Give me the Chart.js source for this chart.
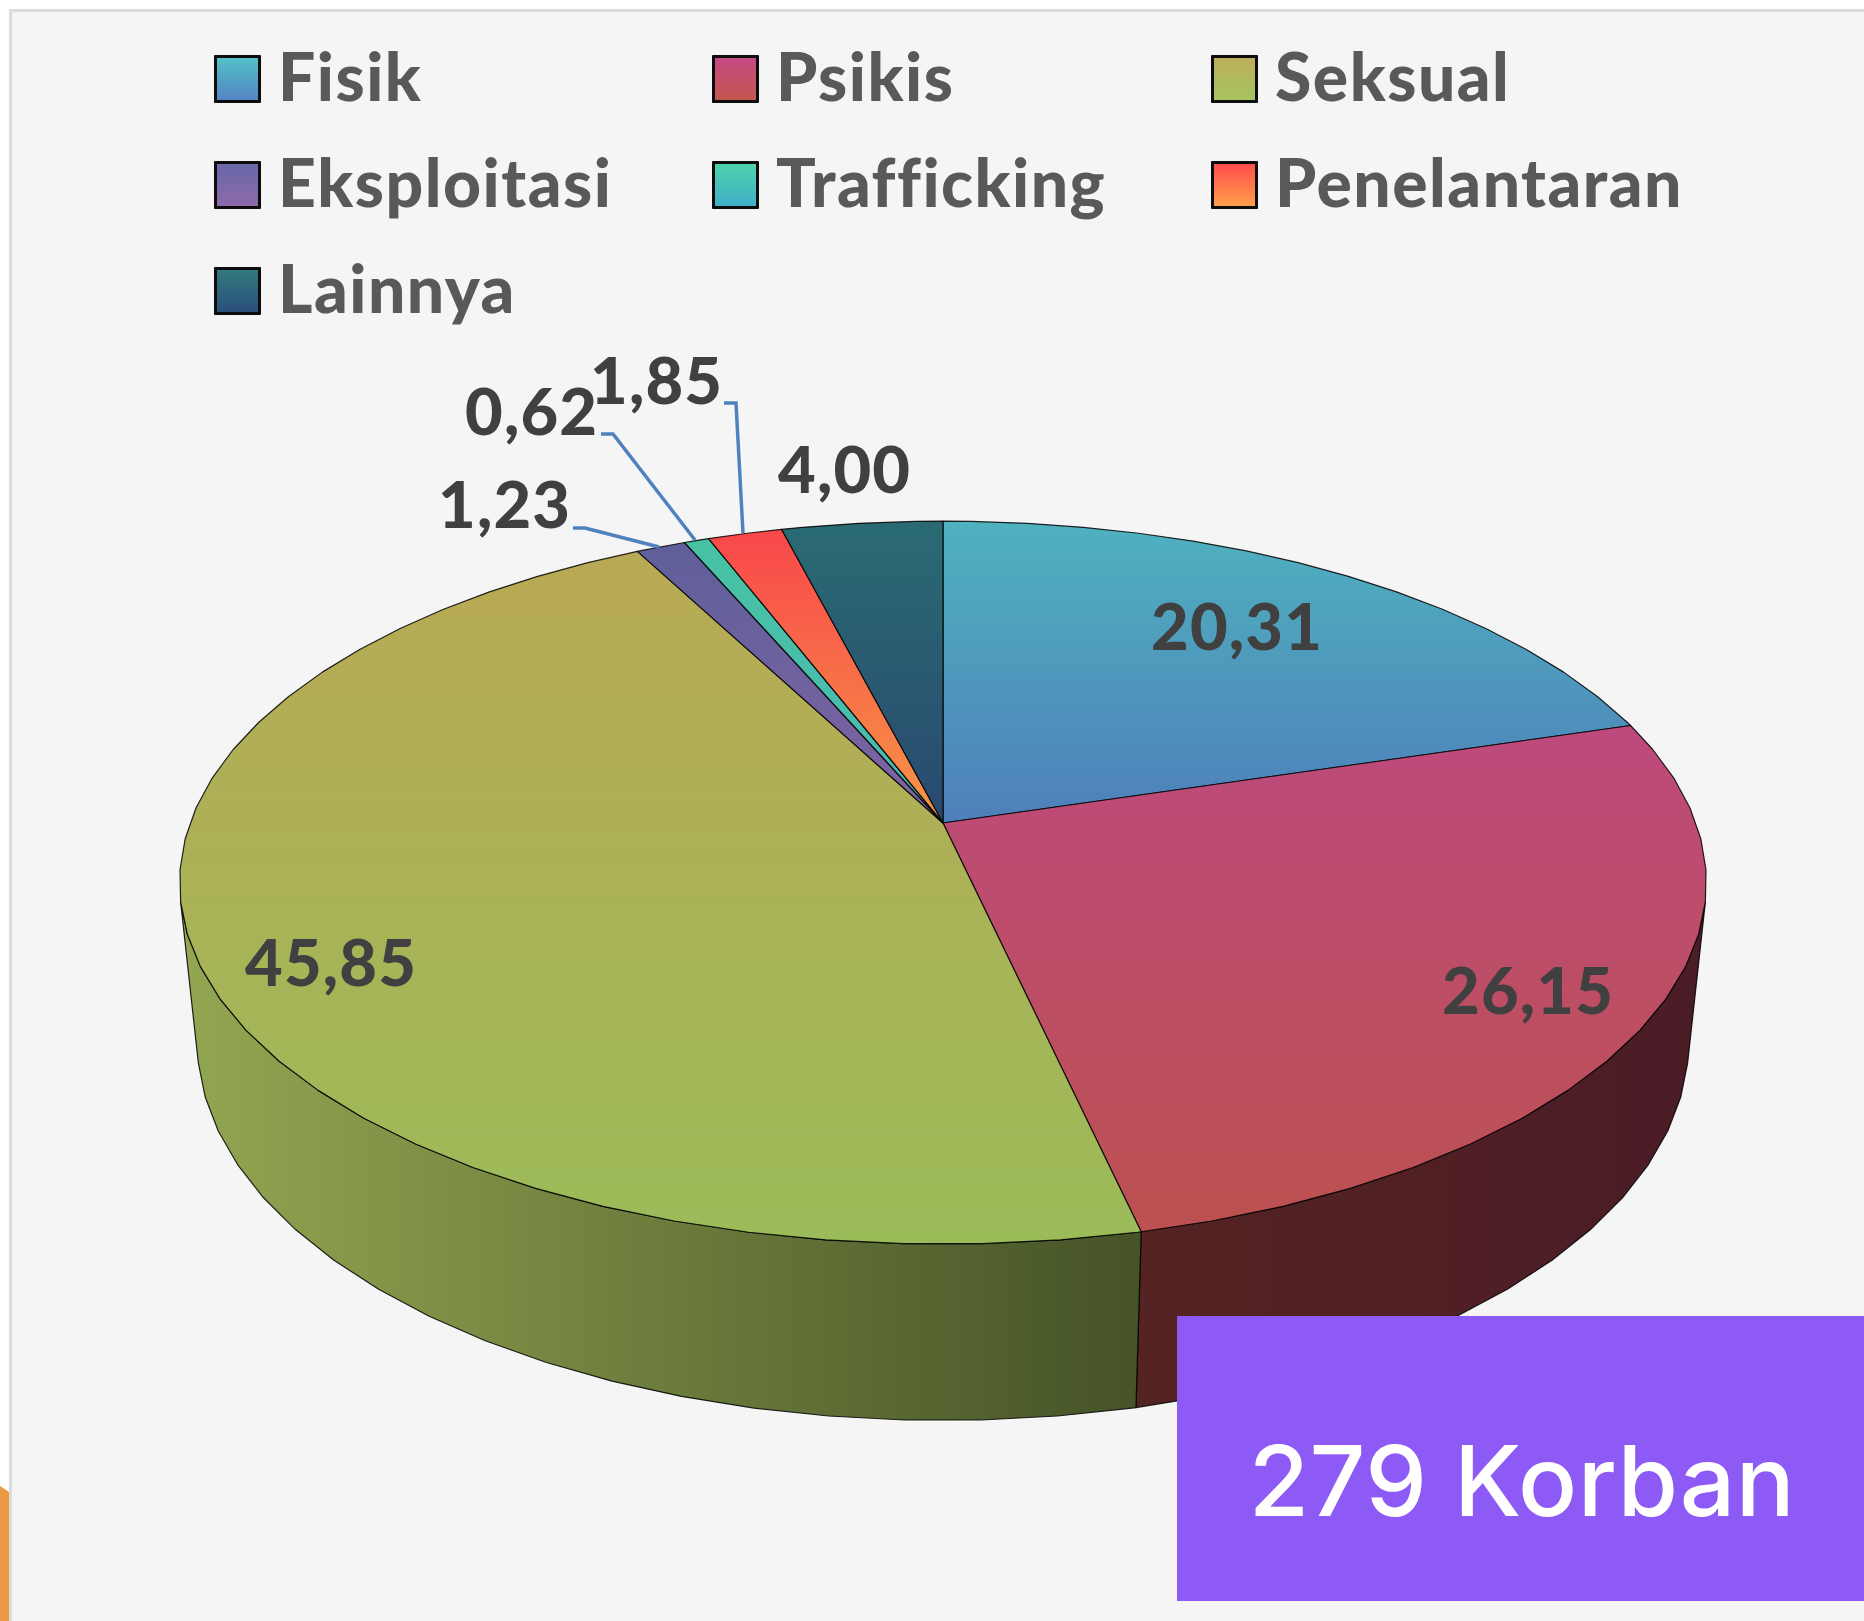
<!DOCTYPE html>
<html>
<head>
<meta charset="utf-8">
<title>Korban</title>
<script src="https://cdn.jsdelivr.net/npm/chart.js@4"></script>
<style>
  html, body { margin: 0; padding: 0; background: #fff; }
  #page { position: relative; width: 1864px; height: 1621px; overflow: hidden; }
  #panel { position: absolute; left: 9px; top: 9px; right: 0; bottom: 0; background: #f5f5f5;
           border-left: 3px solid #dcdcdc; border-top: 3px solid #dcdcdc; }
  #corner { position: absolute; left: 0; top: 1486px; width: 9px; height: 135px; background: #e99a42;
            clip-path: polygon(0 0, 100% 6px, 100% 100%, 0 100%); }
  canvas { position: absolute; left: 0; top: 0; }
  .legend-item { position: absolute; font: 900 66px Lato, sans-serif; color: #595959; line-height: 80px;
                 white-space: nowrap; font-variant-ligatures: none; letter-spacing: 1.5px; }
  .legend-box { position: absolute; width: 41px; height: 42px; border: 3px solid #0c0c0c; border-radius: 1px; }
  #total { position: absolute; left: 1177px; top: 1316px; width: 687px; height: 285px; background: #8e5af5; }
  #total span { position: absolute; left: 0; right: 0; top: 105px; text-align: center; color: #fff;
                font: 500 98px Inter, sans-serif; line-height: 120px; letter-spacing: 0.5px; padding-left: 3px; }
</style>
</head>
<body>
<div id="page">
  <div id="panel"></div>
  <div id="corner"></div>
  <canvas id="pie" width="1864" height="1621"></canvas>
  <div id="total"><span>279 Korban</span></div>
</div>
<script>
const categories = ["Fisik", "Psikis", "Seksual", "Eksploitasi", "Trafficking", "Penelantaran", "Lainnya"]
const values = [20.31, 26.15, 45.85, 1.23, 0.62, 1.85, 4.00]

// top face gradient per slice, [top, bottom]
const faceColors = [
  ["#4fb2bf", "#4e7fba"],
  ["#bd4a7c", "#bc5150"],
  ["#b9a955", "#9bbb59"],
  ["#5f5f9b", "#8064a2"],
  ["#47c2a3", "#4bb8b4"],
  ["#f8474a", "#f79646"],
  ["#2a6b73", "#29496f"],
]
const swatchColors = [
  ["#55c0c8", "#5284c4"],
  ["#c44a84", "#c4574f"],
  ["#bcae5c", "#a6c45f"],
  ["#6a68a8", "#8c6aaa"],
  ["#4fd2ac", "#3fb0c8"],
  ["#ff4d4d", "#ffa04a"],
  ["#33787c", "#2a4f7c"],
]
// side wall left -> right
const wallColors = {
  1: ["#552322", "#4a1c26"],
  2: ["#93a651", "#455327"],
}

// hand placed things, like the original
const labelSpots = [[1151, 650], [1442, 1014], [245, 986], [438, 528], [465, 435], [590, 404], [778, 493]]
const leaderLines = {
  3: [[573, 528], [585, 528], [659, 547]],
  4: [[601, 434], [613, 434], [695, 540]],
  5: [[724, 403], [736, 403], [743, 533]],
}
const legendCols = [214, 712, 1211]
const legendRows = [55, 161, 267]

// perspective of the tilted disc
const tiltY = 0.467
const persp = 0.165
const wallDrop = 161
const wallShrink = 0.023
const stepDeg = 5

// angle -> screen, top rim or bottom rim
const project = (el, a, bottom) => {
  let u = Math.cos(a), v = Math.sin(a)
  let w = 1 - persp * v + (bottom ? wallShrink : 0)
  let r = el.outerRadius
  return [el.x + r * u / w, el.y + (r * tiltY * v + (bottom ? wallDrop : 0)) / w]
}

// sample points along a rim, polygon vertices every stepDeg like the source picture
const rimAngles = (a0, a1) => {
  let list = [a0]
  let d0 = a0 * 180 / Math.PI, d1 = a1 * 180 / Math.PI
  let n = Math.ceil((d0 - 2.5) / stepDeg)
  for (let d = n * stepDeg + 2.5; d < d1; d += stepDeg) {
    if (d > d0) list.push(d * Math.PI / 180)
  }
  list.push(a1)
  return list
}

const drawWall = (ctx, el, colors) => {
  let from = Math.max(el.startAngle, 12.5 * Math.PI / 180)
  let to = Math.min(el.endAngle, 167.5 * Math.PI / 180)
  if (to <= from) return
  let angles = rimAngles(from, to)
  let top = angles.map(a => project(el, a, false))
  let low = angles.map(a => project(el, a, true)).reverse()
  let pts = top.concat(low)
  let xs = pts.map(p => p[0])
  let grad = ctx.createLinearGradient(Math.min(...xs), 0, Math.max(...xs), 0)
  grad.addColorStop(0, colors[0])
  grad.addColorStop(1, colors[1])
  ctx.beginPath()
  pts.forEach((p, i) => i ? ctx.lineTo(p[0], p[1]) : ctx.moveTo(p[0], p[1]))
  ctx.closePath()
  ctx.fillStyle = grad
  ctx.fill()
  ctx.lineWidth = 1.2
  ctx.strokeStyle = "rgba(0,0,0,0.85)"
  ctx.stroke()
}

const drawFace = (ctx, el, colors) => {
  let rim = rimAngles(el.startAngle, el.endAngle).map(a => project(el, a, false))
  let ys = rim.map(p => p[1]).concat(el.y)
  let grad = ctx.createLinearGradient(0, Math.min(...ys), 0, Math.max(...ys))
  grad.addColorStop(0, colors[0])
  grad.addColorStop(1, colors[1])
  ctx.beginPath()
  ctx.moveTo(el.x, el.y)
  rim.forEach(p => ctx.lineTo(p[0], p[1]))
  ctx.closePath()
  ctx.fillStyle = grad
  ctx.fill()
  ctx.lineWidth = 1.2
  ctx.strokeStyle = "rgba(0,0,0,0.85)"
  ctx.stroke()
}

const tiltedPie = {
  id: "tiltedPie",
  beforeDatasetsDraw(chart) {
    let ctx = chart.ctx
    let arcs = chart.getDatasetMeta(0).data
    ctx.save()
    ctx.lineJoin = "round"
    arcs.forEach((el, i) => { if (wallColors[i]) drawWall(ctx, el, wallColors[i]) })
    arcs.forEach((el, i) => drawFace(ctx, el, faceColors[i]))

    // leader lines
    ctx.strokeStyle = "#4f81bd"
    ctx.lineWidth = 3.5
    ctx.lineJoin = "miter"
    for (let i in leaderLines) {
      ctx.beginPath()
      leaderLines[i].forEach((p, n) => n ? ctx.lineTo(p[0], p[1]) : ctx.moveTo(p[0], p[1]))
      ctx.stroke()
    }

    // value labels
    ctx.fillStyle = "#404040"
    ctx.font = "900 65px Lato, sans-serif"
    ctx.letterSpacing = "1.2px"
    ctx.textAlign = "left"
    ctx.textBaseline = "alphabetic"
    values.forEach((v, i) => {
      ctx.fillText(v.toFixed(2).replace(".", ","), labelSpots[i][0], labelSpots[i][1])
    })
    ctx.restore()
    return false // native flat arcs stay undrawn
  },
}

// legend is plain html, the columns line up in the original
categories.forEach((name, i) => {
  let col = legendCols[i % 3], row = legendRows[Math.floor(i / 3)]
  let box = document.createElement("div")
  box.className = "legend-box"
  box.style.left = col + "px"
  box.style.top = row + "px"
  box.style.background = "linear-gradient(" + swatchColors[i][0] + "," + swatchColors[i][1] + ")"
  let text = document.createElement("div")
  text.className = "legend-item"
  text.style.left = (col + 64) + "px"
  text.style.top = (row - 19) + "px"
  text.textContent = name
  document.getElementById("page").append(box, text)
})

let chartEle = document.getElementById("pie").getContext("2d")
new Chart(chartEle, {
  type: "pie",
  plugins: [tiltedPie],
  data: {
    labels: categories,
    datasets: [
      {
        data: values,
        borderWidth: 0,
        backgroundColor: faceColors.map(c => c[0]),
      },
    ],
  },
  options: {
    responsive: false,
    animation: false,
    layout: { padding: { left: 190, right: 168, top: 70, bottom: 45 } },
    plugins: {
      legend: { display: false },
      tooltip: { enabled: false },
    },
  },
})
</script>
</body>
</html>
